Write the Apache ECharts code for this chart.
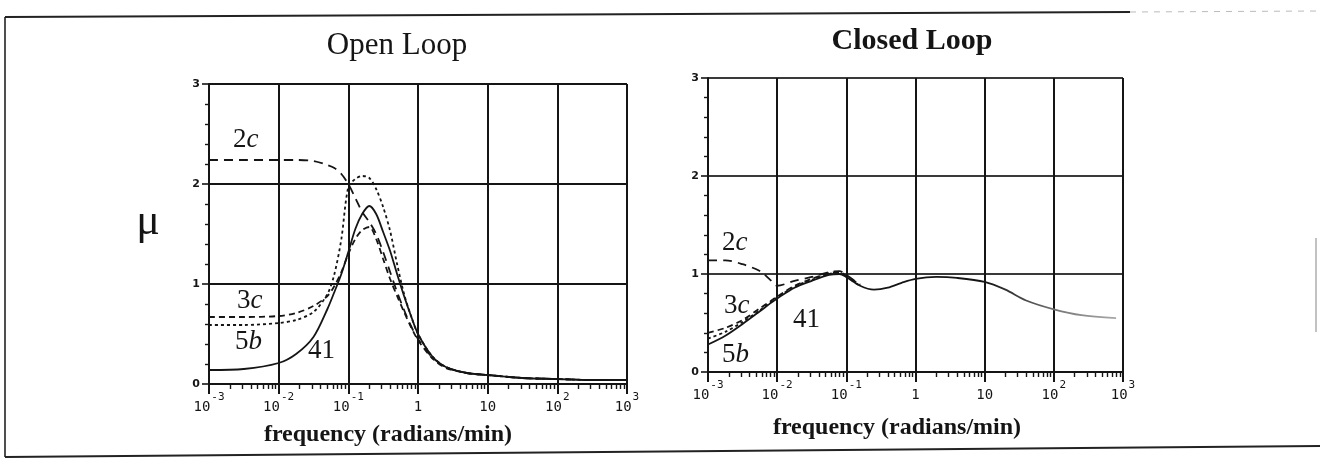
<!DOCTYPE html>
<html><head><meta charset="utf-8">
<script src="https://cdn.jsdelivr.net/npm/echarts@6/dist/echarts.min.js"></script>
<style>html,body{margin:0;padding:0;background:#fff}#c{width:1320px;height:465px}</style>
</head><body><div id="c"></div>
<script>
// ---- tick labels ----
const xTickLabels = ['10^-3','10^-2','10^-1','1','10','10^2','10^3'];
const yTickLabels = ['0','1','2','3'];

// ---- Open Loop ----
const openFreq = [0.001,0.00316,0.01,0.0178,0.0316,0.0501,0.0631,0.0794,0.1,0.126,0.158,0.2,0.251,0.316,0.398,0.501,0.631,0.794,1,1.585,2.512,5.012,10,31.6,100,316,1000];
const open41 = [0.14,0.15,0.21,0.30,0.47,0.75,0.92,1.10,1.32,1.55,1.70,1.78,1.70,1.52,1.33,1.10,0.88,0.68,0.50,0.28,0.17,0.11,0.09,0.06,0.05,0.04,0.04];
const open2c = [2.24,2.24,2.24,2.24,2.23,2.19,2.16,2.10,2.00,1.86,1.72,1.62,1.50,1.32,1.12,0.92,0.74,0.58,0.45,0.27,0.17,0.11,0.09,0.06,0.05,0.04,0.04];
const open3c = [0.67,0.67,0.68,0.71,0.78,0.88,0.98,1.12,1.30,1.45,1.54,1.57,1.45,1.25,1.05,0.88,0.72,0.57,0.44,0.26,0.16,0.11,0.09,0.06,0.05,0.04,0.04];
const open5b = [0.59,0.59,0.61,0.64,0.72,0.90,1.10,1.45,1.97,2.05,2.08,2.06,1.95,1.77,1.53,1.20,0.90,0.68,0.50,0.28,0.17,0.11,0.09,0.06,0.05,0.04,0.04];

// ---- Closed Loop ----
const closedFreq = [0.001,0.00178,0.00316,0.00562,0.00794,0.01,0.0178,0.0316,0.0562,0.0794,0.1,0.158,0.251,0.398,0.631,1,2,3.98,10,20,39.8,100,251,794];
const closed41 = [0.28,0.37,0.49,0.62,0.70,0.75,0.86,0.93,0.99,1.00,0.97,0.88,0.84,0.86,0.91,0.95,0.97,0.96,0.92,0.84,0.73,0.64,0.58,0.55];
const closed2c = [1.14,1.14,1.10,1.03,0.94,0.88,0.93,0.97,1.02,1.03,0.99,0.89];
const closed3c = [0.40,0.45,0.53,0.65,0.72,0.77,0.88,0.95,1.01,1.02,0.98,0.89];
const closed5b = [0.34,0.41,0.51,0.63,0.71,0.76,0.87,0.94,1.00,1.01,0.97,0.88];

const minorTicks = [];
for (let e = -3; e < 3; e++) for (let k = 2; k <= 9; k++) minorTicks.push(Number((k * Math.pow(10, e)).toPrecision(3)));

const INK = '#151515';
function xLabel(v) {
  const i = Math.round(Math.log10(v)) + 3;
  const s = xTickLabels[i] || '';
  const p = s.split('^');
  return p.length > 1 ? '{b|' + p[0] + '}{s|' + p[1] + '}' : '{b|' + s + '}';
}
function mainX(gi) {
  return {
    type: 'log', logBase: 10, gridIndex: gi, min: 0.001, max: 1000, splitNumber: 6, position: 'bottom',
    axisLine: { show: true, lineStyle: { color: INK, width: 2 } },
    axisTick: { show: true, length: 10, lineStyle: { color: INK, width: 2 } },
    splitLine: { show: true, lineStyle: { color: INK, width: 2 } },
    axisLabel: {
      margin: 8, formatter: xLabel, color: INK,
      rich: {
        b: { fontFamily: 'DejaVu Sans Mono', fontSize: 14, verticalAlign: 'bottom', lineHeight: 22 },
        s: { fontFamily: 'DejaVu Sans Mono', fontSize: 11, verticalAlign: 'top', lineHeight: 22, padding: [0, 0, 0, 1] }
      }
    }
  };
}
function minorX(gi) {
  return {
    type: 'log', logBase: 10, gridIndex: gi, min: 0.001, max: 1000, position: 'bottom',
    axisLine: { show: false }, splitLine: { show: false }, axisLabel: { show: false },
    axisTick: { show: true, length: 5, customValues: minorTicks, lineStyle: { color: INK, width: 1.4 } }
  };
}
function yAx(gi, splitColor) {
  return {
    type: 'value', gridIndex: gi, min: 0, max: 3, interval: 1,
    axisLine: { show: true, lineStyle: { color: INK, width: 2 } },
    axisTick: { show: true, length: 7, lineStyle: { color: INK, width: 1.6 } },
    minorTick: { show: true, splitNumber: 5, length: 4, lineStyle: { color: INK, width: 1.4 } },
    splitLine: { show: true, lineStyle: { color: splitColor, width: 2 } },
    axisLabel: { margin: 9, color: INK, fontFamily: 'DejaVu Sans', fontWeight: 'bold', fontSize: 11,
      formatter: v => yTickLabels[Math.round(v)] }
  };
}
function ser(xi, yi, freq, vals, dash, color, w) {
  return {
    type: 'line', xAxisIndex: xi, yAxisIndex: yi, symbol: 'none', smooth: 0.3,
    data: vals.map((v, i) => [freq[i], v]),
    lineStyle: { color: color || INK, width: w || 1.8, type: dash },
    z: 3, silent: true
  };
}
const chart = echarts.init(document.getElementById('c'), null, { renderer: 'canvas' });
const fade = new echarts.graphic.LinearGradient(0, 0, 1, 0, [
  { offset: 0, color: INK }, { offset: 0.68, color: INK }, { offset: 0.86, color: '#7a7a7a' }, { offset: 1, color: '#aaaaaa' }
]);
const serifLbl = (x, y, d, l) => ({
  type: 'text', x: x, y: y,
  style: { text: '{d|' + d + '}' + (l ? '{i|' + l + '}' : ''), verticalAlign: 'middle', fill: INK,
    rich: { d: { fontFamily: 'Liberation Serif', fontSize: 27, fill: INK },
            i: { fontFamily: 'Liberation Serif', fontStyle: 'italic', fontSize: 27, fill: INK } } }
});
chart.setOption({
  animation: false,
  backgroundColor: '#fff',
  grid: [
    { left: 209, top: 84, width: 418, height: 300 },
    { left: 708, top: 78, width: 415, height: 294 }
  ],
  xAxis: [mainX(0), minorX(0), mainX(1), minorX(1)],
  yAxis: [yAx(0, INK), yAx(1, '#3a3a3a')],
  series: [
    ser(0, 0, openFreq, open41, 'solid'),
    ser(0, 0, openFreq, open2c, [9, 6]),
    ser(0, 0, openFreq, open3c, [6, 4]),
    ser(0, 0, openFreq, open5b, [3, 3]),
    ser(2, 1, closedFreq, closed41, 'solid', fade),
    ser(2, 1, closedFreq, closed2c, [9, 6]),
    ser(2, 1, closedFreq, closed3c, [6, 4]),
    ser(2, 1, closedFreq, closed5b, [3, 3])
  ],
  graphic: [
    { type: 'polyline', shape: { points: [[5, 17], [1130, 12]] }, style: { stroke: '#222', lineWidth: 1.8 } },
    { type: 'polyline', shape: { points: [[1130, 12], [1320, 11]] }, style: { stroke: '#bbb', lineWidth: 1, lineDash: [6, 6] } },
    { type: 'polyline', shape: { points: [[5, 17], [5, 457]] }, style: { stroke: '#222', lineWidth: 1.6 } },
    { type: 'polyline', shape: { points: [[5, 457], [1320, 446]] }, style: { stroke: '#222', lineWidth: 1.8 } },
    { type: 'polyline', shape: { points: [[1316, 238], [1316, 332]] }, style: { stroke: '#999', lineWidth: 1.2 } },
    { type: 'text', x: 397, y: 46, style: { text: 'Open Loop', fontFamily: 'Liberation Serif', fontSize: 31, fill: INK, align: 'center', verticalAlign: 'middle' } },
    { type: 'text', x: 912, y: 41, style: { text: 'Closed Loop', fontFamily: 'Liberation Serif', fontWeight: 'bold', fontSize: 30, fill: INK, align: 'center', verticalAlign: 'middle' } },
    { type: 'text', x: 148, y: 222, style: { text: 'μ', fontFamily: 'Liberation Serif', fontSize: 44, fill: INK, align: 'center', verticalAlign: 'middle' } },
    { type: 'text', x: 388, y: 435, style: { text: 'frequency (radians/min)', fontFamily: 'Liberation Serif', fontWeight: 'bold', fontSize: 24, fill: INK, align: 'center', verticalAlign: 'middle' } },
    { type: 'text', x: 897, y: 428, style: { text: 'frequency (radians/min)', fontFamily: 'Liberation Serif', fontWeight: 'bold', fontSize: 24, fill: INK, align: 'center', verticalAlign: 'middle' } },
    serifLbl(233, 140, '2', 'c'),
    serifLbl(237, 301, '3', 'c'),
    serifLbl(235, 342, '5', 'b'),
    serifLbl(308, 351, '41', ''),
    serifLbl(722, 243, '2', 'c'),
    serifLbl(724, 306, '3', 'c'),
    serifLbl(722, 355, '5', 'b'),
    serifLbl(793, 320, '41', '')
  ]
});
</script>
</body></html>
